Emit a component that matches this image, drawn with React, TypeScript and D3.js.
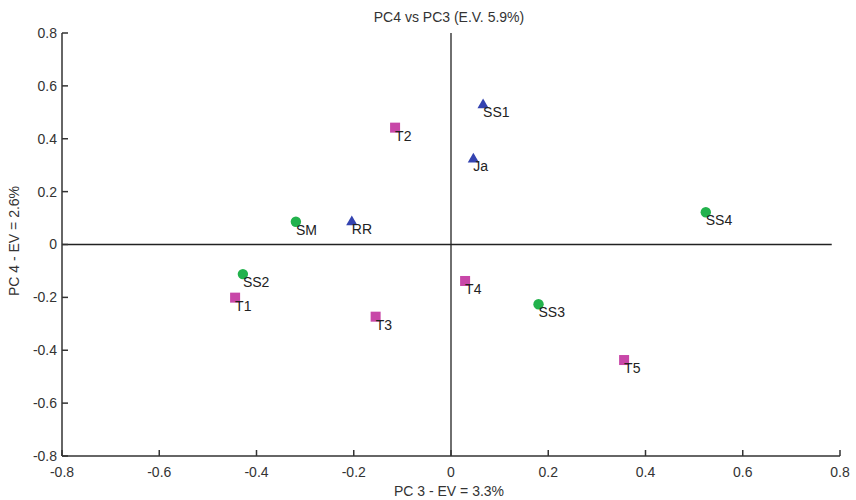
import React from "react";
import * as d3 from "d3";

const names = ["SS1", "Ja", "T2", "SM", "RR", "SS2", "T1", "T3", "T4", "SS3", "T5", "SS4"];
const pc3 = [0.066, 0.046, -0.115, -0.319, -0.204, -0.428, -0.444, -0.155, 0.029, 0.18, 0.356, 0.524];
const pc4 = [0.531, 0.326, 0.442, 0.086, 0.089, -0.112, -0.201, -0.273, -0.138, -0.226, -0.437, 0.122];
const groups = ["tri", "tri", "sq", "circ", "tri", "circ", "sq", "sq", "sq", "circ", "sq", "circ"];
const tickValues = [-0.8, -0.6, -0.4, -0.2, 0, 0.2, 0.4, 0.6, 0.8];

const W = 856;
const H = 500;
const FONT = "'Liberation Sans', Arial, sans-serif";
const colors: Record<string, string> = { sq: "#c847a8", circ: "#22b24c", tri: "#3443b0" };

export default function App() {
  const x = d3.scaleLinear().domain([-0.8, 0.8]).range([62, 840]);
  const y = d3.scaleLinear().domain([-0.8, 0.8]).range([456, 33]);
  const tri = d3.symbol().type(d3.symbolTriangle).size(55)() as string;
  const fmt = (v: number) => (v === 0 ? "0" : d3.format(".1f")(v).replace("\u2212", "-"));

  return (
    <svg width={W} height={H} style={{ position: "absolute", left: 0, top: 0, background: "#fff" }} fontFamily={FONT}>
      <text x={449} y={22} textAnchor="middle" fontSize={14} fill="#333">PC4 vs PC3 (E.V. 5.9%)</text>
      {/* zero lines */}
      <line x1={x(0)} x2={x(0)} y1={y(0.8)} y2={y(-0.8)} stroke="#222" strokeWidth={1.3} />
      <line x1={x(-0.8)} x2={x(0.783)} y1={y(0)} y2={y(0)} stroke="#222" strokeWidth={1.3} />
      {/* axes */}
      <line x1={x(-0.8)} x2={x(-0.8)} y1={y(0.8)} y2={y(-0.8)} stroke="#333" strokeWidth={1.5} />
      <line x1={x(-0.8)} x2={x(0.8)} y1={y(-0.8)} y2={y(-0.8)} stroke="#333" strokeWidth={1.5} />
      {tickValues.map((t) => (
        <g key={"y" + t}>
          <line x1={x(-0.8)} x2={x(-0.8) + 6} y1={y(t)} y2={y(t)} stroke="#333" strokeWidth={1.5} />
          <text x={57} y={y(t)} dy="0.35em" textAnchor="end" fontSize={14} fill="#333">{fmt(t)}</text>
        </g>
      ))}
      {tickValues.map((t) => (
        <g key={"x" + t}>
          <line x1={x(t)} x2={x(t)} y1={y(-0.8)} y2={y(-0.8) - 6} stroke="#333" strokeWidth={1.5} />
          <text x={x(t)} y={477} textAnchor="middle" fontSize={14} fill="#333">{fmt(t)}</text>
        </g>
      ))}
      <text x={449} y={496} textAnchor="middle" fontSize={14} fill="#333">PC 3 - EV = 3.3%</text>
      <text transform="translate(19,241) rotate(-90)" textAnchor="middle" fontSize={14} fill="#333">PC 4 - EV = 2.6%</text>
      {names.map((n, i) => {
        const cx = x(pc3[i]);
        const cy = y(pc4[i]);
        const g = groups[i];
        return (
          <g key={n}>
            {g === "sq" && <rect x={cx - 5} y={cy - 5} width={10} height={10} fill={colors.sq} />}
            {g === "circ" && <circle cx={cx} cy={cy} r={5.2} fill={colors.circ} />}
            {g === "tri" && <path d={tri} transform={`translate(${cx},${cy + 1})`} fill={colors.tri} />}
            <text x={cx} y={cy + 13} fontSize={14} fill="#222">{n}</text>
          </g>
        );
      })}
    </svg>
  );
}
